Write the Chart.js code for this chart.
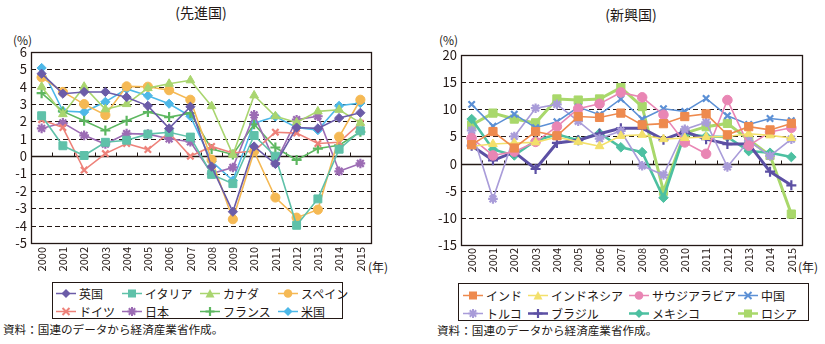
<!DOCTYPE html>
<html lang="ja">
<head>
<meta charset="UTF-8">
<title>実質GDP成長率（先進国・新興国）</title>
<script src="https://cdn.jsdelivr.net/npm/chart.js"></script>
<style>
body { margin:0; width:825px; height:344px; background:#fff; position:relative; overflow:hidden;
       font-family:'Noto Sans CJK JP', sans-serif; color:#231815; }
.abs { position:absolute; white-space:nowrap; line-height:1; }
.title { font-size:14px; transform:translateX(-50%); }
.unit { font-size:12px; }
.src { font-size:11.6px; }
.legend { position:absolute; border:1px solid #231815; box-sizing:border-box; }
.item { position:absolute; display:flex; align-items:center; font-size:12px; white-space:nowrap; transform:translateY(-50%); }
.item svg { margin-right:3px; }
canvas { position:absolute; }
</style>
</head>
<body>

<div class="abs title" style="left:201px; top:5px;">(先進国)</div>
<div class="abs title" style="left:631px; top:7px;">(新興国)</div>
<div class="abs unit" style="left:13px; top:34px;">(%)</div>
<div class="abs unit" style="left:439px; top:34px;">(%)</div>
<div class="abs unit" style="left:368px; top:261px;">(年)</div>
<div class="abs unit" style="left:798px; top:261px;">(年)</div>

<canvas id="senshinChart" width="400" height="240" style="left:0; top:40px;"></canvas>
<canvas id="shinkoChart" width="400" height="240" style="left:420px; top:40px;"></canvas>

<div class="legend" id="legendLeft" style="left:52px; top:282px; width:291px; height:37px;"></div>
<div class="legend" id="legendRight" style="left:458px; top:283px; width:351px; height:38px;"></div>

<div class="abs src" style="left:3px; top:324px;">資料：国連のデータから経済産業省作成。</div>
<div class="abs src" style="left:437px; top:325px;">資料：国連のデータから経済産業省作成。</div>

<script>
// ======= データ =======
const years = ['2000','2001','2002','2003','2004','2005','2006','2007',
               '2008','2009','2010','2011','2012','2013','2014','2015'];

// 先進国
const uk      = [4.75, 3.6, 3.7, 3.7, 3.4, 2.9, 1.6, 2.85, -0.6, -3.2, 0.56, -0.45, 1.65, 1.6, 2.2, 2.5];
const italy   = [2.33, 0.6, 0.04, 0.8, 0.92, 1.27, 1.38, 1.1, -1.05, -1.58, 1.19, 0.0, -3.98, -2.46, 0.4, 1.46];
const canada  = [4.0, 2.42, 4.0, 2.7, 3.0, 3.92, 4.17, 4.37, 2.88, 0.08, 3.5, 2.3, 1.94, 2.58, 2.67, 1.92];
const spain   = [4.54, 3.7, 3.0, 2.37, 4.02, 4.0, 3.8, 3.25, -0.2, -3.63, 0.27, -2.38, -3.54, -3.08, 1.12, 3.25];
const germany = [2.1, 1.65, -0.8, 0.15, 0.73, 0.38, 1.35, 0.0, 0.56, 0.18, 0.3, 1.38, 1.33, 0.73, 0.8, 1.9];
const japan   = [1.6, 1.92, 1.2, 0.7, 1.3, 1.27, 1.0, 0.83, -1.0, -0.65, 2.38, -0.4, 2.1, 2.3, -0.87, -0.42];
const france  = [3.63, 2.58, 2.04, 1.48, 2.04, 2.54, 2.25, 2.48, 0.41, 0.1, 1.84, 0.5, -0.22, 0.44, 0.63, 1.4];
const usa     = [5.08, 2.6, 2.54, 3.13, 3.87, 3.48, 3.02, 2.3, -0.3, -1.4, 1.9, 2.28, 1.65, 1.5, 2.9, 3.06];

// 新興国
const india     = [3.48, 5.9, 2.87, 5.9, 5.12, 8.66, 8.5, 9.3, 7.13, 7.35, 8.66, 9.15, 5.3, 6.8, 6.2, 7.4];
const indonesia = [3.2, 3.6, 3.8, 3.9, 4.9, 4.0, 3.2, 5.1, 5.3, 4.5, 4.7, 4.9, 5.0, 5.5, 5.2, 4.7];
const saudi     = [4.7, 1.5, 2.2, 4.0, 6.8, 10.1, 11.0, 13.1, 12.2, 9.0, 3.9, 1.8, 11.7, 3.3, 5.8, 6.6];
const china     = [10.9, 6.9, 9.1, 6.6, 7.7, 10.4, 9.0, 11.9, 8.2, 10.1, 9.6, 12.0, 8.8, 7.2, 8.3, 7.9];
const turkey    = [6.1, -6.5, 5.0, 10.2, 10.9, 7.8, 4.6, 6.0, -0.4, -2.1, 6.3, 7.6, -0.6, 4.2, 1.4, 4.5];
const brazil    = [3.3, 0.6, 2.1, -1.0, 3.8, 4.3, 5.5, 6.5, 6.5, 4.4, 5.9, 4.5, 3.6, 3.6, -1.5, -4.0];
const mexico    = [8.2, 2.6, 1.5, 4.2, 5.4, 4.3, 5.6, 3.0, 2.1, -6.3, 5.5, 5.0, 4.9, 2.3, 2.0, 1.2];
const russia    = [7.1, 9.3, 8.2, 7.5, 11.9, 11.7, 11.9, 14.0, 10.5, -5.1, 5.6, 6.8, 7.4, 4.4, 1.5, -9.3];

const leftTicks  = { min: -5, max: 6, step: 1 };
const rightTicks = { min: -15, max: 20, step: 5 };

// ======= 系列設定 =======
const fuente = "'Noto Sans CJK JP', sans-serif";
const tinta = '#231815';

function serie(label, data, color, style, radius, width) {
    return {
        label: label,
        data: data,
        borderColor: color,
        backgroundColor: color,
        pointBackgroundColor: color,
        pointBorderColor: color,
        pointStyle: style,
        pointRadius: radius,
        pointBorderWidth: (style === 'cross' || style === 'crossRot' || style === 'star') ? 2.2 : 1,
        borderWidth: width,
        tension: 0,
        fill: false
    };
}

const leftSeries = [
    serie('英国', uk, '#6B5CA8', 'rectRot', 4.6, 1.6),
    serie('イタリア', italy, '#5FC1A9', 'rect', 5.6, 1.6),
    serie('カナダ', canada, '#A9D56F', 'triangle', 5, 1.6),
    serie('スペイン', spain, '#F5B954', 'circle', 4.6, 1.6),
    serie('ドイツ', germany, '#EE827A', 'crossRot', 4.5, 1.6),
    serie('日本', japan, '#9C6CB4', 'star', 4.8, 1.6),
    serie('フランス', france, '#5DB760', 'cross', 5, 1.6),
    serie('米国', usa, '#4DB8E8', 'rectRot', 4.6, 1.6)
];

const rightSeries = [
    serie('インド', india, '#EE8A4E', 'rect', 5.8, 1.6),
    serie('インドネシア', indonesia, '#F3E06B', 'triangle', 5, 1.6),
    serie('サウジアラビア', saudi, '#E986B4', 'circle', 4.8, 1.6),
    serie('中国', china, '#5C90D5', 'crossRot', 4.5, 1.6),
    serie('トルコ', turkey, '#A99CD9', 'star', 4.8, 1.6),
    serie('ブラジル', brazil, '#5C50A4', 'cross', 5, 3),
    serie('メキシコ', mexico, '#4DC0A1', 'rectRot', 4.8, 2.6),
    serie('ロシア', russia, '#A9D86B', 'rect', 5.8, 3)
];

// ======= 枠・グリッド =======
const marco = {
    id: 'marco',
    beforeDatasetsDraw(chart) {
        const { ctx, chartArea: a, scales: { x, y } } = chart;
        ctx.save();
        ctx.strokeStyle = tinta;
        y.ticks.forEach(t => {
            if (t.value === y.min || t.value === y.max) return;
            const py = Math.round(y.getPixelForValue(t.value)) + 0.5;
            ctx.setLineDash(t.value === 0 ? [] : [5, 3]);
            ctx.lineWidth = t.value === 0 ? 1.3 : 1;
            ctx.beginPath();
            ctx.moveTo(a.left, py);
            ctx.lineTo(a.right, py);
            ctx.stroke();
        });
        ctx.setLineDash([]);
        ctx.lineWidth = 1;
        const y0 = Math.round(y.getPixelForValue(0)) + 0.5;
        for (let i = 1; i < x.ticks.length; i++) {
            const px = Math.round((x.getPixelForValue(i - 1) + x.getPixelForValue(i)) / 2) + 0.5;
            ctx.beginPath();
            ctx.moveTo(px, y0);
            ctx.lineTo(px, y0 - 4);
            ctx.stroke();
        }
        ctx.lineWidth = 1.3;
        ctx.strokeRect(Math.round(a.left) + 0.5, Math.round(a.top) + 0.5,
                       Math.round(a.right - a.left), Math.round(a.bottom - a.top));
        ctx.restore();
    }
};

function crearGrafico(id, series, rango, pad, yAncho, xAlto, xPad) {
    return new Chart(document.getElementById(id), {
        type: 'line',
        data: { labels: years, datasets: series },
        options: {
            responsive: false,
            animation: false,
            layout: { padding: pad },
            plugins: { legend: { display: false }, tooltip: { enabled: false } },
            scales: {
                x: {
                    offset: true,
                    grid: { display: false, drawTicks: false },
                    border: { display: false },
                    ticks: {
                        autoSkip: false, minRotation: 90, maxRotation: 90, padding: xPad,
                        color: tinta, font: { family: fuente, size: 11 }
                    },
                    afterFit: s => { s.height = xAlto; }
                },
                y: {
                    min: rango.min, max: rango.max,
                    grid: { display: false, drawTicks: false },
                    border: { display: false },
                    ticks: {
                        stepSize: rango.step, padding: 4, autoSkip: false,
                        color: tinta, font: { family: fuente, size: 13 }
                    },
                    afterFit: s => { s.width = yAncho; }
                }
            }
        },
        plugins: [marco]
    });
}

crearGrafico('senshinChart', leftSeries, leftTicks, { top: 12, right: 29, left: 0, bottom: 0 }, 31, 37, 4);
crearGrafico('shinkoChart', rightSeries, rightTicks, { top: 15, right: 18, left: 0, bottom: 0 }, 41, 35, 3);

// ======= 凡例 =======
function icono(ds) {
    const c = ds.borderColor, lw = Math.min(ds.borderWidth, 2.6);
    let m = '';
    switch (ds.pointStyle) {
        case 'rectRot': m = `<polygon points="10,1.5 14.5,6 10,10.5 5.5,6" fill="${c}"/>`; break;
        case 'rect': m = `<rect x="6" y="2" width="8" height="8" fill="${c}"/>`; break;
        case 'triangle': m = `<polygon points="10,1.5 14.5,10 5.5,10" fill="${c}"/>`; break;
        case 'circle': m = `<circle cx="10" cy="6" r="4.3" fill="${c}"/>`; break;
        case 'crossRot': m = `<path d="M6.5,2.5L13.5,9.5M13.5,2.5L6.5,9.5" stroke="${c}" stroke-width="2"/>`; break;
        case 'cross': m = `<path d="M10,1.5V10.5M5.5,6H14.5" stroke="${c}" stroke-width="2.2"/>`; break;
        case 'star': m = `<path d="M10,1.5V10.5M5.5,6H14.5M6.8,2.8L13.2,9.2M13.2,2.8L6.8,9.2" stroke="${c}" stroke-width="2"/>`; break;
    }
    return `<svg width="20" height="12"><line x1="0" y1="6" x2="20" y2="6" stroke="${c}" stroke-width="${lw}"/>${m}</svg>`;
}

function crearLeyenda(id, series, columnas, filas) {
    const caja = document.getElementById(id);
    series.forEach((ds, i) => {
        const el = document.createElement('div');
        el.className = 'item';
        el.style.left = columnas[i % 4] + 'px';
        el.style.top = filas[Math.floor(i / 4)] + 'px';
        el.innerHTML = icono(ds) + '<span>' + ds.label + '</span>';
        caja.appendChild(el);
    });
}

crearLeyenda('legendLeft', leftSeries, [3, 69, 147, 225], [10, 28]);
crearLeyenda('legendRight', rightSeries, [4, 69, 170, 279], [11, 29]);
</script>
</body>
</html>
